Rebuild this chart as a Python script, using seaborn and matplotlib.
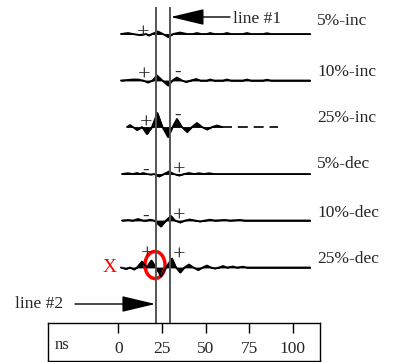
import numpy as np
import pandas as pd
import seaborn as sns
import matplotlib
matplotlib.use('Agg')
import matplotlib.pyplot as plt
from matplotlib.patches import Ellipse

# trace labels (top to bottom)
labels = ['5%-inc', '10%-inc', '25%-inc', '5%-dec', '10%-dec', '25%-dec']

# time (ns) / amplitude samples
t_5inc = [1.5, 5.6, 8.4, 12.4, 15.9, 17.6, 19.3, 22.7, 25.6, 28.5, 31.3, 35.4, 39.4,
          42.8, 45.1, 47.4, 50.8, 52.6, 55.0, 60.0, 62.3, 64.5, 71.5, 73.7, 76.0,
          83.0, 85.2, 87.5, 109.9]
a_5inc = [0, 1, 0, -1, 0, -1.5, 0, 2.5, 0, -3, 0, 1.5, 0,
          0, 1, 0, 0, 1, 0, 0, 1, 0, 0, 1, 0,
          0, 0.8, 0, 0]

t_10inc = [1.5, 5.0, 8.4, 11.3, 14.2, 17.0, 19.6, 22.2, 25.3, 28.5, 31.0, 33.6, 36.5,
           38.8, 41.5, 44.6, 47.0, 50.8, 52.6, 55.0, 60.0, 62.3, 64.5, 71.5, 73.7,
           76.0, 83.0, 85.2, 87.5, 109.9]
a_10inc = [0, 0.5, 1, 1, 0, -2, 0, 5, 0, -5, 0, 3, 0,
           -1.5, 0, 1.5, 0, 0, 1, 0, 0, 1, 0, 0, 1,
           0, 0, 0.8, 0, 0]

t_25inc = [5.0, 6.7, 8.4, 10.7, 13.6, 16.4, 19.3, 22.4, 25.3, 28.5, 31.1, 33.6, 36.5,
           39.4, 42.2, 45.1, 48.0, 50.8, 53.7, 56.6, 59.5]
a_25inc = [0, 2, 0, -3, 0, -7, 0, 14, 0, -10, 0, 8, 0,
           -5, 0, 4, 0, -2.5, 0, 1.5, 0]
tail_25inc = [59.5, 91.5]

t_5dec = [2.1, 5.6, 8.4, 10.7, 12.4, 14.2, 16.4, 18.7, 20.5, 23.3, 26.2, 29.0, 31.9,
          34.8, 37.7, 40.5, 43.4, 46.2, 49.1, 52.0, 54.8, 109.9]
a_5dec = [0, 0.8, 0, 1, 0, 1, 0, -0.5, 0, -2.5, 0, 2.5, 0,
          -1.5, 0, 1, 0, 0.8, 0, 0.8, 0, 0]

t_10dec = [2.1, 5.6, 8.4, 11.3, 14.2, 15.9, 18.2, 20.5, 24.4, 27.3, 30.2, 32.5, 35.4,
           38.2, 41.0, 44.0, 46.8, 49.7, 52.6, 55.4, 61.1, 64.0, 69.7, 72.6, 109.9]
a_10dec = [0, 0.5, 0, 1.5, 0, 0, 0.8, 0, -6, 0, 4.5, 0, -2,
           0, 1, 0, -1, 0, 0.8, 0, 0.6, 0, 0.6, 0, 0]

t_25dec = [1.5, 4.4, 6.7, 9.0, 10.7, 13.6, 16.2, 19.0, 21.6, 24.5, 27.3, 30.8, 33.1,
           35.4, 37.9, 40.5, 43.1, 45.7, 48.3, 50.8, 53.1, 55.4, 57.7, 60.0, 62.3,
           65.7, 68.0, 71.5, 73.7, 109.9]
a_25dec = [0, -1.5, 0, -2, 0, 6, 0, 7, 0, -9, 0, 9, 0,
           -5, 0, 3, 0, -2.5, 0, 2, 0, -1, 0, 1.5, 0,
           1, 0, 0.8, 0, 0]

traces_t = [t_5inc, t_10inc, t_25inc, t_5dec, t_10dec, t_25dec]
traces_a = [a_5inc, a_10inc, a_25inc, a_5dec, a_10dec, a_25dec]

# +/- annotations: trace index, time (ns), symbol, height above baseline
mark_trace = [0, 1, 1, 2, 2, 3, 3, 4, 4, 5, 5]
mark_t = [14.3, 14.7, 34.2, 15.7, 34.2, 15.9, 34.8, 15.9, 34.8, 16.3, 35.0]
mark_sym = ['+', '+', '-', '+', '-', '-', '+', '-', '+', '+', '+']
mark_dy = [0, 4, 8, 3, 12, 4, 3, 4, 3, 12, 11]

ticks = [0, 25, 50, 75, 100]
line1_ns = 29.6
line2_ns = 21.6

# layout (pixels of the 393x362 canvas)
W, H = 393, 362
X0, SCALE = 118.3, 1.745
baselines = [34, 80.5, 127, 174, 220.5, 267.5]
label_y = [21, 72, 118, 164, 213, 259]


def px(x):
    return (x - X0) / SCALE


sns.set_theme(style='white')
plt.rcParams['font.family'] = ['Liberation Serif', 'DejaVu Serif']

fig = plt.figure(figsize=(W / 100, H / 100), dpi=100)
ax = fig.add_axes([0, 0, 1, 1])

rows = []
for i, (ts, amps) in enumerate(zip(traces_t, traces_a)):
    for t, a in zip(ts, amps):
        rows.append({'trace': labels[i], 't': t, 'y': baselines[i] - a})
df = pd.DataFrame(rows)

sns.lineplot(data=df, x='t', y='y', units='trace', estimator=None, color='black',
             lw=1.3, sort=False, legend=False, ax=ax)
ax.set_xlim(px(0), px(W))
ax.set_ylim(H, 0)
ax.axis('off')
for i, (ts, amps) in enumerate(zip(traces_t, traces_a)):
    yy = baselines[i] - np.array(amps)
    ax.fill_between(ts, baselines[i], yy, color='black', lw=0.6, edgecolor='black')
ax.plot(tail_25inc, [baselines[2]] * 2, color='black', lw=1.2, dashes=(6, 3.5))

for i, lab in enumerate(labels):
    ax.text(px(317), label_y[i], lab, fontsize=12.5, ha='left', va='center')

for tr, t, s, dy in zip(mark_trace, mark_t, mark_sym, mark_dy):
    ax.text(t, baselines[tr] - dy, s, fontsize=16 if s == '+' else 14,
            ha='center', va='center')

# the two reference lines
ax.vlines([line2_ns, line1_ns], 7, 323, color='#555555', lw=1.4)

arrow = dict(arrowstyle='-|>,head_length=2.1,head_width=0.5', color='black', lw=1,
             shrinkA=0, shrinkB=0, mutation_scale=10)
ax.annotate('', xy=(line1_ns + 0.4, 17), xytext=(px(230), 17), arrowprops=arrow)
ax.text(px(233), 19, 'line #1', fontsize=12.5, ha='left', va='center')
ax.annotate('', xy=(line2_ns - 0.4, 304), xytext=(px(75), 304), arrowprops=arrow)
ax.text(px(15), 304, 'line #2', fontsize=12.5, ha='left', va='center')

# highlighted region
ax.add_patch(Ellipse((px(155), 265), 20 / SCALE, 27, fill=False, edgecolor='red', lw=2.5))
ax.text(px(110), 267, 'X', color='red', fontsize=14, ha='center', va='center')

# time axis box
ax2 = fig.add_axes([48 / W, (H - 361) / H, (320 - 48) / W, (361 - 323) / H])
ax2.set_xlim(px(48), px(320))
ax2.set_ylim(0, 1)
ax2.set_xticks(ticks)
ax2.set_yticks([])
ax2.tick_params(axis='x', direction='in', top=True, bottom=False, labeltop=False,
                labelbottom=False, length=7, width=1, color='black')
for sp in ax2.spines.values():
    sp.set_color('black')
    sp.set_linewidth(1)
for v in ticks:
    ax2.text(v, 0.31, str(v), fontsize=12.5, ha='center', va='center')
ax2.text(px(55), 0.43, 'ns', fontsize=12, ha='left', va='center')

fig.savefig('out.png', dpi=100)
